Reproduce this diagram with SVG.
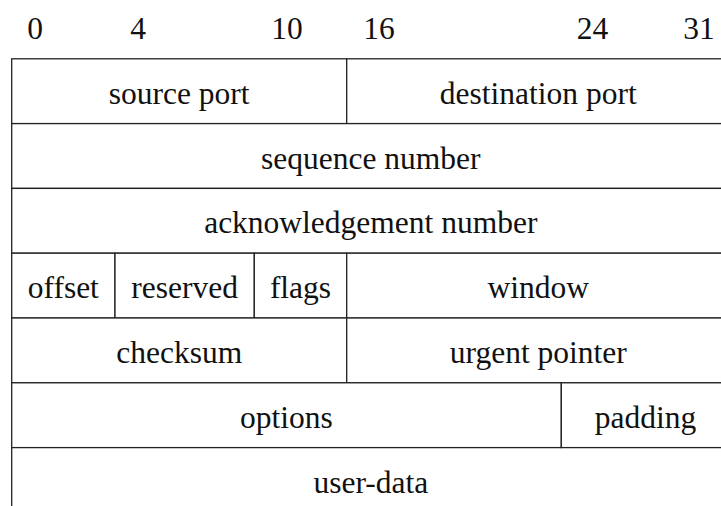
<svg xmlns="http://www.w3.org/2000/svg" width="721" height="506" viewBox="0 0 721 506">
<style>
  .cell { fill: #fff; stroke: #222; stroke-width: 1.3; }
  .edge { fill: none; stroke: #222; stroke-width: 1.3; }
  text { font-family: "Liberation Serif", "Times New Roman", serif; font-size: 31.5px; fill: #111; text-anchor: middle; }
</style>
<rect width="721" height="506" fill="#fff"/>
<g id="bit-labels">
  <text x="35" y="39">0</text>
  <text x="138" y="39">4</text>
  <text x="287" y="39">10</text>
  <text x="379" y="39">16</text>
  <text x="592.5" y="39">24</text>
  <text x="699" y="39">31</text>
</g>
<g id="source-port"><rect class="cell" x="11.7" y="58.8" width="335" height="64.8"/><text x="179.2" y="103.8">source port</text></g>
<g id="destination-port"><rect class="cell" x="346.7" y="58.8" width="383.3" height="64.8"/><text x="538.3" y="103.8">destination port</text></g>
<g id="sequence-number"><rect class="cell" x="11.7" y="123.6" width="718.3" height="64.8"/><text x="370.8" y="168.6">sequence number</text></g>
<g id="acknowledgement-number"><rect class="cell" x="11.7" y="188.4" width="718.3" height="64.8"/><text x="370.8" y="233.4">acknowledgement number</text></g>
<g id="offset"><rect class="cell" x="11.7" y="253.2" width="103.3" height="64.8"/><text x="63.3" y="298.2">offset</text></g>
<g id="reserved"><rect class="cell" x="115" y="253.2" width="139.3" height="64.8"/><text x="184.7" y="298.2">reserved</text></g>
<g id="flags"><rect class="cell" x="254.3" y="253.2" width="92.4" height="64.8"/><text x="300.5" y="298.2">flags</text></g>
<g id="window"><rect class="cell" x="346.7" y="253.2" width="383.3" height="64.8"/><text x="538.3" y="298.2">window</text></g>
<g id="checksum"><rect class="cell" x="11.7" y="318" width="335" height="64.8"/><text x="179.2" y="363">checksum</text></g>
<g id="urgent-pointer"><rect class="cell" x="346.7" y="318" width="383.3" height="64.8"/><text x="538.3" y="363">urgent pointer</text></g>
<g id="options"><rect class="cell" x="11.7" y="382.8" width="549.6" height="64.8"/><text x="286.5" y="427.8">options</text></g>
<g id="padding"><rect class="cell" x="561.3" y="382.8" width="168.7" height="64.8"/><text x="645.6" y="427.8">padding</text></g>
<g id="user-data"><path class="edge" d="M11.7 447.6 V506"/><text x="370.8" y="492.6">user-data</text></g>
<g id="connectors"></g>
</svg>
